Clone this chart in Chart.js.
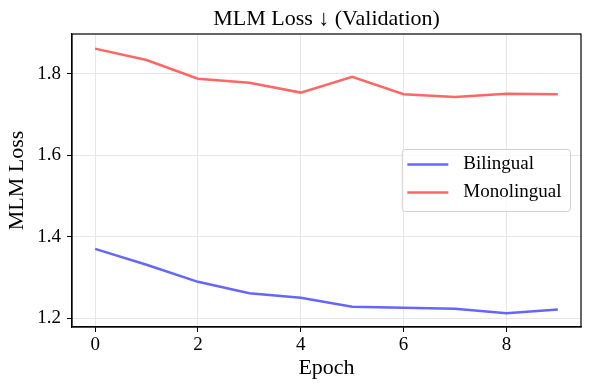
<!DOCTYPE html>
<html>
<head>
<meta charset="utf-8">
<script src="https://cdn.jsdelivr.net/npm/chart.js@4"></script>
<style>
  html, body { margin: 0; padding: 0; background: #fff; }
  #wrap { width: 590px; height: 390px; }
</style>
</head>
<body>
<div id="wrap"><canvas id="lossChart" width="590" height="390"></canvas></div>
<script>
// ---------- DATA ----------
const epochs = [0, 1, 2, 3, 4, 5, 6, 7, 8, 9];
const bilingual = [1.370, 1.331, 1.289, 1.261, 1.250, 1.228, 1.225, 1.223, 1.212, 1.221];
const monolingual = [1.862, 1.834, 1.788, 1.778, 1.754, 1.793, 1.750, 1.743, 1.751, 1.750];
const xTicks = [0, 2, 4, 6, 8];
const yTicks = [1.2, 1.4, 1.6, 1.8];
const chartTitle = "MLM Loss \u2193 (Validation)";

const FONT = "'Liberation Serif', 'Times New Roman', serif";
const BLUE = "#6666ff", RED = "#ff6666";

// title centred over the plot area + full frame + legend inside the plot
const decor = {
  id: "decor",
  afterDatasetsDraw(chart) {
    const { ctx, chartArea: a } = chart;
    ctx.save();
    ctx.strokeStyle = "#000";
    ctx.lineWidth = 1.2;
    ctx.strokeRect(a.left, a.top, a.right - a.left, a.bottom - a.top);

    // legend
    ctx.font = `19px ${FONT}`;
    const items = chart.data.datasets.map(d => ({ label: d.label, color: d.borderColor }));
    const textW = Math.max(...items.map(it => ctx.measureText(it.label).width));
    const rowH = 28;
    const boxW = 5 + 41 + 15 + textW + 9;
    const boxH = items.length * rowH + 6;
    const bx = a.right - 10.5 - boxW;
    const by = (a.top + a.bottom) / 2 - boxH / 2;
    ctx.beginPath();
    ctx.roundRect(bx, by, boxW, boxH, 3);
    ctx.fillStyle = "rgba(255,255,255,0.8)";
    ctx.fill();
    ctx.strokeStyle = "#d0d0d0";
    ctx.lineWidth = 1;
    ctx.stroke();
    items.forEach((it, i) => {
      const y = by + 15 + i * rowH;
      ctx.beginPath();
      ctx.moveTo(bx + 5, y);
      ctx.lineTo(bx + 46, y);
      ctx.strokeStyle = it.color;
      ctx.lineWidth = 2.5;
      ctx.stroke();
      ctx.fillStyle = "#000";
      ctx.textAlign = "left";
      ctx.textBaseline = "middle";
      ctx.fillText(it.label, bx + 61, y);
    });

    // title
    ctx.font = `22px ${FONT}`;
    ctx.fillStyle = "#000";
    ctx.textAlign = "center";
    ctx.textBaseline = "alphabetic";
    ctx.fillText(chartTitle, (a.left + a.right) / 2, 25);
    ctx.restore();
  }
};

new Chart(document.getElementById("lossChart"), {
  type: "line",
  data: {
    labels: epochs,
    datasets: [
      { label: "Bilingual", data: epochs.map((e, i) => ({ x: e, y: bilingual[i] })), borderColor: BLUE, backgroundColor: BLUE },
      { label: "Monolingual", data: epochs.map((e, i) => ({ x: e, y: monolingual[i] })), borderColor: RED, backgroundColor: RED }
    ]
  },
  options: {
    responsive: false,
    animation: false,
    devicePixelRatio: 1,
    layout: { padding: { top: 34, right: 9, left: 0, bottom: 0 } },
    elements: { line: { borderWidth: 2.5, tension: 0 }, point: { radius: 0 } },
    plugins: { legend: { display: false }, title: { display: false }, tooltip: { enabled: false } },
    scales: {
      x: {
        type: "linear",
        min: -0.45,
        max: 9.45,
        afterBuildTicks: s => { s.ticks = xTicks.map(v => ({ value: v })); },
        afterFit: s => { s.height = 63; },
        ticks: { color: "#000", font: { family: FONT, size: 19 }, padding: 2, maxRotation: 0, callback: v => String(v) },
        grid: { color: "#e6e6e6", tickColor: "#000", tickLength: 5, lineWidth: 1 },
        border: { color: "#000", width: 1.2 },
        title: { display: true, text: "Epoch", color: "#000", font: { family: FONT, size: 22 }, padding: { top: 0, bottom: 9 } }
      },
      y: {
        min: 1.178,
        max: 1.898,
        afterBuildTicks: s => { s.ticks = yTicks.map(v => ({ value: v })); },
        afterFit: s => { s.width = 72; },
        ticks: { color: "#000", font: { family: FONT, size: 19 }, padding: 6, callback: v => Number(v).toFixed(1) },
        grid: { color: "#e6e6e6", tickColor: "#000", tickLength: 5, lineWidth: 1 },
        border: { color: "#000", width: 1.2 },
        title: { display: true, text: "MLM Loss", color: "#000", font: { family: FONT, size: 22 }, padding: { top: 4, bottom: 0 } }
      }
    }
  },
  plugins: [decor]
});
</script>
</body>
</html>
